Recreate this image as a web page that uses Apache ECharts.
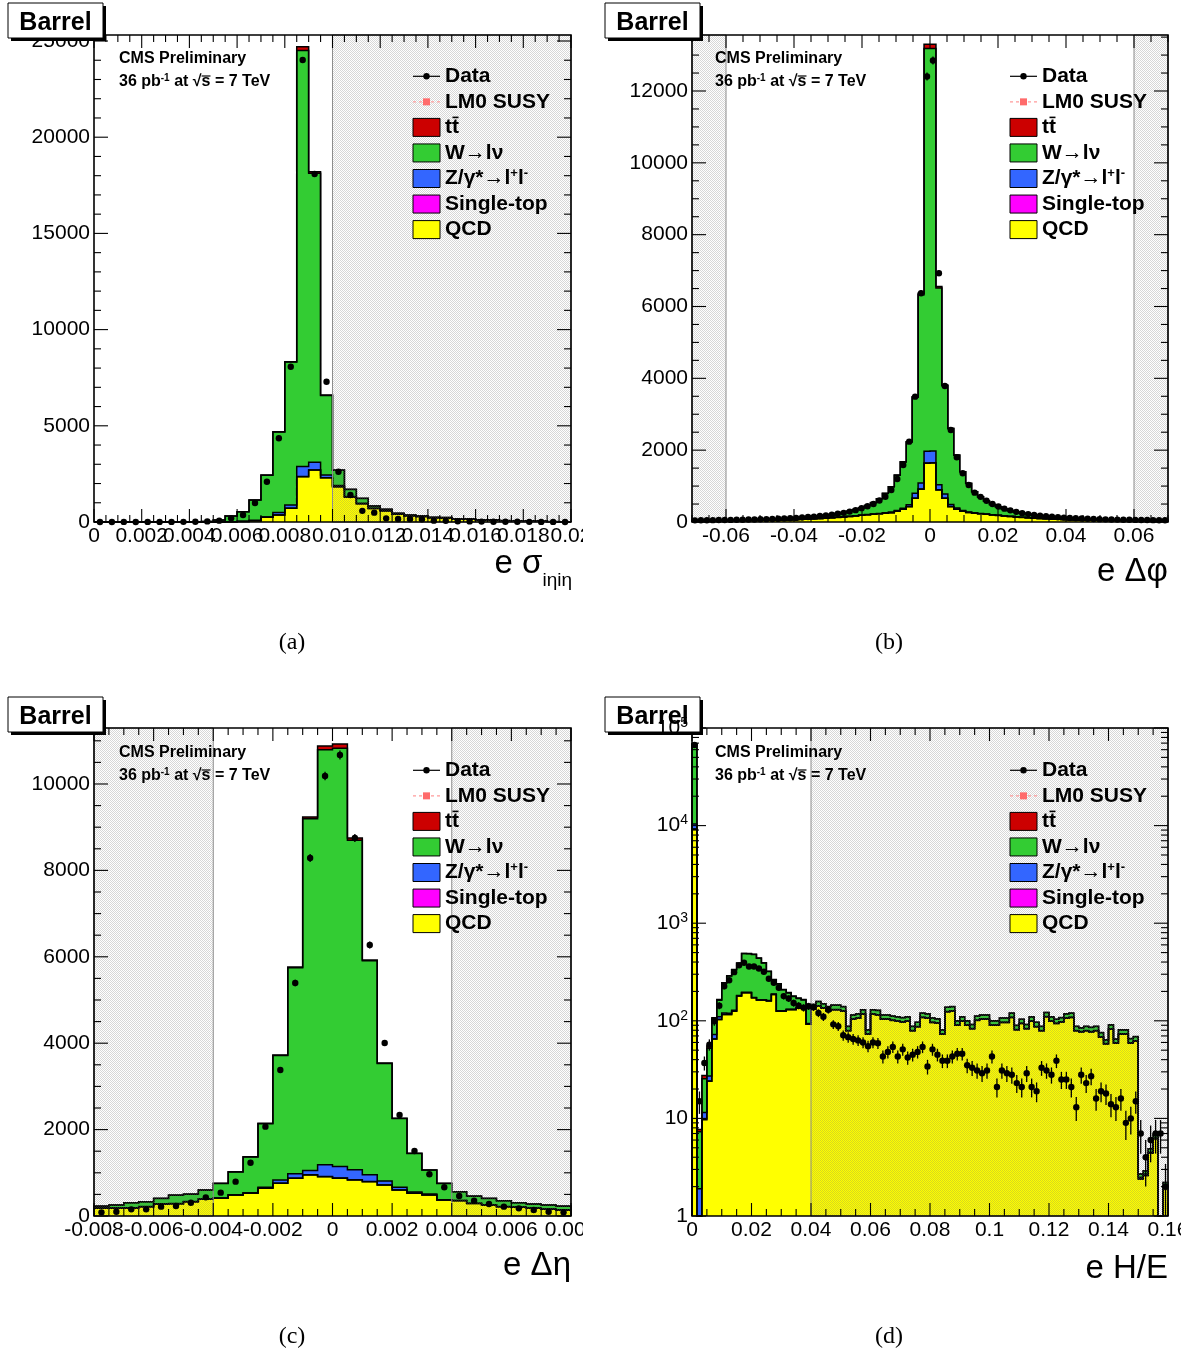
<!DOCTYPE html>
<html>
<head>
<meta charset="utf-8">
<script src="https://cdn.jsdelivr.net/npm/echarts@6.0.0/dist/echarts.min.js"></script>
<style>
html,body{margin:0;padding:0;background:#ffffff;}
#chart{width:1186px;height:1353px;}
</style>
</head>
<body>
<div id="chart"></div>
<script>
// ===================== DATA =====================
// Layers are stacked bottom -> top: QCD, Single-top, Z/gamma*->ll, W->lnu, ttbar

// (a) e sigma_ietaieta : 40 bins of 0.0005 on [0, 0.02]
const sieieBinStart = 0, sieieBinWidth = 0.0005;
const sieieQCD = [0,0,0,0,0,0,0,0,0,2,3,10,30,60,242,364,710,2356,2700,2300,1830,1300,950,700,580,400,320,280,220,210,155,140,92,88,62,52,48,34,16,15];
const sieieSingleTop = [0,0,0,0,0,0,0,0,0,0,0,0,0,0,0,3,5,10,5,3,2,1,0,0,0,0,0,0,0,0,0,0,0,0,0,0,0,0,0,0];
const sieieZ = [0,0,0,0,0,0,0,0,0,0,2,5,10,30,20,121,170,520,400,143,60,30,20,15,10,6,4,3,3,2,2,2,1,1,1,1,1,1,0,0];
const sieieW = [0,0,0,0,0,0,0,2,8,28,95,295,492,1048,2171,4195,7433,21614,15015,4134,801,362,256,112,68,44,39,28,26,22,17,17,11,10,8,6,5,4,3,2];
const sieieTT = [0,0,0,0,0,0,0,0,0,0,0,2,3,5,10,10,15,200,80,20,10,5,4,3,2,2,1,1,1,1,1,1,1,1,1,1,1,1,1,1];
const sieieData = [3,2,4,3,5,4,6,9,15,30,70,190,364,990,2095,4350,8073,24012,18087,7293,2615,1403,580,485,190,155,155,140,70,60,40,30,20,15,15,10,8,6,5,3];
const sieieXTicks = [0,0.002,0.004,0.006,0.008,0.01,0.012,0.014,0.016,0.018,0.02];
const sieieYTicks = [0,5000,10000,15000,20000,25000];
const sieieExcluded = [[0.01,0.02]];

// (b) e delta phi : 80 bins of 0.00175 on [-0.07, 0.07]
const dphiBinStart = -0.07, dphiBinWidth = 0.00175;
const dphiQCD = [33,34,35,36,37,38,39,40,41,43,45,47,49,52,55,59,63,68,74,80,88,96,105,116,128,140,155,170,185,200,215,230,245,260,300,353,427,660,911,1634,
                 1640,891,660,427,353,300,262,245,228,214,198,184,168,154,141,128,117,106,97,88,81,74,69,64,59,55,52,49,47,45,43,41,40,39,38,37,36,35,34,33];
const dphiSingleTop = [0,0,0,0,0,0,0,0,0,0,0,0,0,0,0,0,0,0,0,0,0,0,0,1,1,1,1,1,1,1,1,1,1,1,1,2,2,3,5,10,
                       10,5,3,2,2,1,1,1,1,1,1,1,1,1,1,1,1,0,0,0,0,0,0,0,0,0,0,0,0,0,0,0,0,0,0,0,0,0,0,0];
const dphiZ = [1,1,1,1,1,1,1,1,1,1,1,1,1,1,1,1,2,2,2,2,2,2,3,3,3,4,4,5,5,6,7,8,10,14,20,30,50,140,167,325,
               325,139,120,60,35,22,15,11,8,7,6,5,5,4,4,3,3,3,2,2,2,2,2,2,1,1,1,1,1,1,1,1,1,1,1,1,1,1,1,1];
const dphiW = [13,14,15,16,17,18,19,21,23,24,26,28,31,33,36,39,42,47,51,57,64,71,81,89,102,119,138,172,207,251,315,408,540,704,983,1287,1746,2667,5247,11211,
               11205,5479,3013,2109,1468,1073,796,585,462,361,281,231,186,157,130,110,92,83,72,65,57,50,45,42,40,37,34,31,29,26,25,23,21,20,18,17,16,15,14,14];
const dphiTT = [1,1,1,1,1,1,1,1,1,1,1,1,1,1,1,1,1,1,1,1,1,1,1,1,1,1,2,2,2,2,2,3,3,4,5,8,12,20,40,120,
                120,40,20,12,8,5,4,3,3,2,2,2,2,2,1,1,1,1,1,1,1,1,1,1,1,1,1,1,1,1,1,1,1,1,1,1,1,1,1,1];
const dphiData = [46,48,50,52,54,56,58,61,64,68,71,75,80,85,91,98,106,114,125,138,150,165,185,205,228,255,290,330,385,440,500,600,705,891,1198,1588,2237,3490,6370,12404,
                  12850,6928,3788,2562,1802,1356,1030,817,700,590,500,430,372,325,283,246,220,196,176,160,146,133,122,112,104,96,90,84,79,74,70,67,64,61,58,56,54,52,50,47];
const dphiXTicks = [-0.06,-0.04,-0.02,0,0.02,0.04,0.06];
const dphiYTicks = [0,2000,4000,6000,8000,10000,12000];
const dphiExcluded = [[-0.07,-0.06],[0.06,0.07]];

// (c) e delta eta : 32 bins of 0.0005 on [-0.008, 0.008]
const detaBinStart = -0.008, detaBinWidth = 0.0005;
const detaQCD = [177,177,185,216,278,285,331,386,409,486,525,641,757,873,949,910,873,833,795,718,602,525,486,370,355,290,255,216,200,177,154,139];
const detaSingleTop = [1,1,1,1,1,1,1,1,1,1,2,2,3,3,4,5,5,4,3,2,2,1,1,1,1,1,1,1,1,1,1,1];
const detaZ = [5,5,5,5,5,5,5,5,5,5,10,20,76,100,100,270,268,232,154,92,62,30,20,5,5,5,5,5,5,5,5,5];
const detaW = [45,69,114,106,122,192,169,207,339,528,831,1474,2879,4768,8143,9605,9680,7631,4954,2719,1589,891,555,378,199,164,145,130,99,92,92,83];
const detaTT = [3,3,3,3,3,3,3,3,3,5,5,8,12,20,40,90,100,50,20,10,6,4,3,3,3,3,3,3,3,3,3,3];
const detaData = [85,100,154,154,216,231,308,432,540,795,1234,2068,3380,5393,8287,10185,10671,8750,6273,4005,2338,1505,965,664,463,355,278,216,177,139,100,85];
const detaXTicks = [-0.008,-0.006,-0.004,-0.002,0,0.002,0.004,0.006,0.008];
const detaYTicks = [0,2000,4000,6000,8000,10000];
const detaExcluded = [[-0.008,-0.004],[0.004,0.008]];

// (d) e H/E : 96 bins of 1/600 on [0, 0.16], log y
const hoeBinStart = 0, hoeBinWidth = 0.16/96;
const hoeQCD = [9200,0,9.7,24,65,103,116,116,125,179,
                194,194,172,163,163,160,186,125,125,130,
                130,135,135,92,132,142,135,126,130,130,
                126,79,104,106,117,73,117,115,104,104,
                101,99,97,99,79,87,108,106,96,95,
                73,124,126,90,99,90,83,101,104,104,
                90,90,96,96,108,81,94,83,99,87,
                79,110,99,94,97,106,108,79,77,79,
                77,79,68,58,82,59,73,73,59,62,
                2.4,2.6,4.4,6.2,0,1.9];
const hoeSingleTop = [20,0.2,0.2,0.2,0.2,0.2,0.2,0.2,0.2,0.2,
                      0.2,0.2,0.2,0.2,0.2,0.2,0.2,0.2,0.2,0.2,
                      0.2,0.2,0.2,0.2,0.1,0.1,0.1,0.1,0.1,0.1,
                      0.1,0.1,0.1,0.1,0.1,0.1,0.1,0.1,0.1,0.1,
                      0.1,0.1,0.1,0.1,0.1,0.1,0.1,0.1,0.1,0.1,
                      0.1,0.1,0.1,0.1,0.1,0.1,0.1,0.1,0.1,0.1,
                      0.1,0.1,0.1,0.1,0.1,0.1,0.1,0.1,0.1,0.1,
                      0.1,0.1,0.1,0.1,0.1,0.1,0.1,0.1,0.1,0.1,
                      0.1,0.1,0.1,0.1,0.1,0.1,0.1,0.1,0.1,0.1,
                      0,0,0,0,0,0];
const hoeZ = [1150,1.7,1.6,3,7,7,4,3,3,2,
              2,1.5,1.5,1.5,1.5,1.5,1.5,1.5,1.5,1.5,
              1.5,1.5,1.5,1.5,0.5,0.5,0.5,0.5,0.5,0.5,
              0.5,0.5,0.5,0.5,0.5,0.5,0.5,0.5,0.5,0.5,
              0.5,0.5,0.5,0.5,0.5,0.5,0.5,0.5,0.5,0.5,
              0.5,0.5,0.5,0.5,0.5,0.5,0.5,0.5,0.5,0.5,
              0.5,0.5,0.5,0.5,0.5,0.5,0.5,0.5,0.5,0.5,
              0.5,0.5,0.5,0.5,0.5,0.5,0.5,0.5,0.5,0.5,
              0.5,0.5,0.5,0.5,0.5,0.5,0.5,0.5,0.5,0.5,
              0.1,0.1,0.1,0.1,0,0.1];
const hoeW = [58000,5.4,14,25,32,52,122,169,205,207,
              292,292,304,273,226,159,75,111,81,61,
              46,33,27,52,14,15,14,13,14,14,
              13,8,10,11,12,7,12,12,10,10,
              10,10,10,10,8,9,11,11,10,9,
              7,13,13,9,10,9,8,10,10,10,
              9,9,10,10,11,8,9,8,10,9,
              8,11,10,9,10,11,11,8,7,8,
              8,8,7,5,8,5,7,7,6,6,
              0.2,0.2,0.4,0.6,0,0.2];
const hoeTT = [100,0.4,2,3,3,3,3,2,2,2,
               2,2,2,2,2,2,2,2,2,2,
               2,2,2,2,0.3,0.3,0.3,0.3,0.3,0.3,
               0.3,0.3,0.3,0.3,0.3,0.3,0.3,0.3,0.3,0.3,
               0.3,0.3,0.3,0.3,0.3,0.3,0.3,0.3,0.3,0.3,
               0.3,0.3,0.3,0.3,0.3,0.3,0.3,0.3,0.3,0.3,
               0.3,0.3,0.3,0.3,0.3,0.3,0.3,0.3,0.3,0.3,
               0.3,0.3,0.3,0.3,0.3,0.3,0.3,0.3,0.3,0.3,
               0.3,0.3,0.3,0.3,0.3,0.3,0.3,0.3,0.3,0.3,
               0,0,0,0,0,0];
const hoeData = [67000,15,37,57,99,143,226,260,315,370,
                 393,360,360,343,318,270,245,218,179,169,
                 152,143,136,141,138,120,110,130,92,88,
                 71,68,65,63,60,55,60,59,43,48,
                 54,43,51,42,45,48,54,34,51,45,
                 39,39,43,46,46,35,33,31,29,31,
                 43,21,31,29,28,23,21,29,21,19,
                 33,31,28,39,25,25,21,13,28,23,
                 27,16,19,18,14,13,16,9,10,15,
                 7,4,6,7,7,2];
const hoeXTicks = [0,0.02,0.04,0.06,0.08,0.1,0.12,0.14,0.16];
const hoeYTicks = [1,10,100,1000,10000,100000];
const hoeExcluded = [[0.04,0.16]];

const legendLabels = ['Data','LM0 SUSY','tt','W\u2192l\u03bd','Z/\u03b3*\u2192l{s|+}l{s|-}','Single-top','QCD'];

// ===================== STYLE / LAYOUT =====================
const FONT = '"Liberation Sans", Arial, Helvetica, sans-serif';
const SERIF = '"Liberation Serif", "Times New Roman", serif';
const LAYER_COLORS = ['#ffff00','#ff00ff','#3366ff','#33cc33','#cc0000'];
const LEGEND_COLORS = [null,null,'#cc0000','#33cc33','#3366ff','#ff00ff','#ffff00'];

const PANELS = [
  {grid:{left:94,top:35,width:477,height:487}, xMin:0, xMax:0.02, xInterval:0.002, xTicks:sieieXTicks, xMinor:0.0005,
   yLog:false, yMin:0, yMax:25312, yInterval:5000, yTicks:sieieYTicks, yMinor:1000,
   binStart:sieieBinStart, binWidth:sieieBinWidth, layers:[sieieQCD,sieieSingleTop,sieieZ,sieieW,sieieTT], data:sieieData, excluded:sieieExcluded,
   legend:{x:413,y:76.3}, cms:{x:119,y:59}, barrel:{x:8,y:3}, caption:{t:'(a)',x:292,y:643},
   title:{main:'e \u03c3', sub:'i\u03b7i\u03b7', right:572, base:575, subBase:587}},
  {grid:{left:692,top:35,width:476,height:487}, xMin:-0.07, xMax:0.07, xInterval:0.01, xTicks:dphiXTicks, xMinor:0.005,
   yLog:false, yMin:0, yMax:13559, yInterval:2000, yTicks:dphiYTicks, yMinor:500,
   binStart:dphiBinStart, binWidth:dphiBinWidth, layers:[dphiQCD,dphiSingleTop,dphiZ,dphiW,dphiTT], data:dphiData, excluded:dphiExcluded,
   legend:{x:1010,y:76.3}, cms:{x:715,y:59}, barrel:{x:605,y:3}, caption:{t:'(b)',x:889,y:643},
   title:{main:'e \u0394\u03c6', right:1168, base:583}},
  {grid:{left:94,top:728,width:477,height:488}, xMin:-0.008, xMax:0.008, xInterval:0.002, xTicks:detaXTicks, xMinor:0.0005,
   yLog:false, yMin:0, yMax:11296, yInterval:2000, yTicks:detaYTicks, yMinor:500,
   binStart:detaBinStart, binWidth:detaBinWidth, layers:[detaQCD,detaSingleTop,detaZ,detaW,detaTT], data:detaData, excluded:detaExcluded,
   legend:{x:413,y:770.3}, cms:{x:119,y:753}, barrel:{x:8,y:697}, caption:{t:'(c)',x:292,y:1337},
   title:{main:'e \u0394\u03b7', right:571, base:1277}},
  {grid:{left:692,top:728,width:476,height:488}, xMin:0, xMax:0.16, xInterval:0.02, xTicks:hoeXTicks, xMinor:0.005,
   yLog:true, yMin:1, yMax:100000, yTicks:hoeYTicks, labelsOnTop:true,
   binStart:hoeBinStart, binWidth:hoeBinWidth, layers:[hoeQCD,hoeSingleTop,hoeZ,hoeW,hoeTT], data:hoeData, excluded:hoeExcluded,
   legend:{x:1010,y:770.3}, cms:{x:715,y:753}, barrel:{x:605,y:697}, caption:{t:'(d)',x:889,y:1337},
   title:{main:'e H/E', right:1168, base:1280}}
];

// stipple pattern for the excluded regions
const patCanvas = document.createElement('canvas');
patCanvas.width = 2; patCanvas.height = 2;
(function(){ const g = patCanvas.getContext('2d'); g.fillStyle = 'rgba(110,110,110,0.28)'; g.fillRect(0,0,1,1); g.fillRect(1,1,1,1); })();
const HATCH = {image: patCanvas, repeat: 'repeat'};

const mctx = document.createElement('canvas').getContext('2d');
function textW(t, font){ mctx.font = font; return mctx.measureText(t).width; }

function cumulate(layers){
  const out = []; let prev = null;
  layers.forEach(arr => { const c = arr.map((v,k) => (prev ? prev[k] : 0) + v); out.push(c); prev = c; });
  return out;
}
function clampY(P, v){ return Math.max(P.yMin, Math.min(P.yMax, v)); }
function numLabel(v, ticks){
  for (const t of ticks){ if (Math.abs(t - v) < 1e-9 + 1e-6*Math.abs(t)) return t === 0 ? '0' : String(t); }
  return '';
}
function logLabel(v){
  const lv = Math.log10(v);
  if (!hoeYTicks.some(t => Math.abs(Math.log10(t) - lv) < 1e-6)) return '';
  const e = Math.round(lv);
  if (e === 0) return '1';
  if (e === 1) return '10';
  return '{b|10}{s|' + e + '}';
}

// ===================== SERIES =====================
const series = [];
PANELS.forEach((P, i) => {
  P.cum = cumulate(P.layers);
  const n = P.layers[0].length;
  const anchor = [[P.xMin, P.yLog ? 10 : 1]];
  P.cum.forEach((top, li) => {
    series.push({
      type:'custom', xAxisIndex:i, yAxisIndex:i, z:2, silent:true, animation:false, data:anchor,
      renderItem:(params, api) => {
        const bot = li > 0 ? P.cum[li-1] : null;
        const pts = [];
        for (let k = 0; k < n; k++){
          const x0 = P.binStart + k*P.binWidth, x1 = x0 + P.binWidth, y = clampY(P, top[k]);
          pts.push(api.coord([x0, y])); pts.push(api.coord([x1, y]));
        }
        for (let k = n-1; k >= 0; k--){
          const x0 = P.binStart + k*P.binWidth, x1 = x0 + P.binWidth, y = bot ? clampY(P, bot[k]) : P.yMin;
          pts.push(api.coord([x1, y])); pts.push(api.coord([x0, y]));
        }
        return {type:'polygon', shape:{points:pts}, style:{fill:LAYER_COLORS[li], stroke:null}};
      }
    });
  });
  series.push({
    type:'custom', xAxisIndex:i, yAxisIndex:i, z:3, silent:true, animation:false, data:anchor,
    renderItem:(params, api) => {
      const children = P.cum.map(top => {
        const pts = [api.coord([P.binStart, P.yMin])];
        for (let k = 0; k < n; k++){
          const x0 = P.binStart + k*P.binWidth, x1 = x0 + P.binWidth, y = clampY(P, top[k]);
          pts.push(api.coord([x0, y])); pts.push(api.coord([x1, y]));
        }
        pts.push(api.coord([P.binStart + n*P.binWidth, P.yMin]));
        return {type:'polyline', shape:{points:pts}, style:{stroke:'#000', lineWidth:1.5, fill:null}};
      });
      return {type:'group', children};
    }
  });
  series.push({
    type:'custom', xAxisIndex:i, yAxisIndex:i, z:4, silent:true, animation:false, data:anchor,
    renderItem:(params, api) => ({type:'group', children: P.excluded.map(r => {
      const a = api.coord([r[0], P.yMax]), b = api.coord([r[1], P.yMin]);
      return {type:'rect', shape:{x:a[0], y:a[1], width:b[0]-a[0], height:b[1]-a[1]}, style:{fill:HATCH, stroke:'#8c8c8c', lineWidth:1}};
    })})
  });
  series.push({
    type:'custom', xAxisIndex:i, yAxisIndex:i, z:5, silent:true, animation:false,
    data: P.data.map((v,k) => [P.binStart + (k+0.5)*P.binWidth, v]),
    renderItem:(params, api) => {
      const x = api.value(0), v = api.value(1), e = Math.sqrt(v);
      const p = api.coord([x, v]), lo = api.coord([x, clampY(P, v - e)]), hi = api.coord([x, clampY(P, v + e)]);
      return {type:'group', children:[
        {type:'line', shape:{x1:p[0], y1:lo[1], x2:p[0], y2:hi[1]}, style:{stroke:'#000', lineWidth:1.3}},
        {type:'circle', shape:{cx:p[0], cy:p[1], r:3.2}, style:{fill:'#000'}}
      ]};
    }
  });
  series.push({
    type:'custom', xAxisIndex:i, yAxisIndex:i, z:6, silent:true, animation:false, data:anchor,
    renderItem:(params, api) => {
      const ch = [];
      const tl = api.coord([P.xMin, P.yMax]), br = api.coord([P.xMax, P.yMin]);
      const L = (x1,y1,x2,y2) => ch.push({type:'line', shape:{x1,y1,x2,y2}, style:{stroke:'#000', lineWidth:1.1}});
      const nx = Math.round((P.xMax - P.xMin)/P.xMinor);
      for (let j = 0; j <= nx; j++){
        const xv = P.xMin + j*P.xMinor;
        const major = P.xTicks.some(t => Math.abs(t - xv) < 1e-9);
        const len = major ? 13 : 7;
        const px = api.coord([xv, P.yMin])[0];
        L(px, br[1], px, br[1]-len);
        L(px, tl[1], px, tl[1]+len);
      }
      const yt = [];
      if (P.yLog){
        P.yTicks.forEach(t => yt.push([t, true]));
        for (let d = 1; d < P.yMax; d *= 10) for (let m = 2; m <= 9; m++) yt.push([m*d, false]);
      } else {
        const ny = Math.floor((P.yMax - P.yMin)/P.yMinor + 1e-9);
        for (let j = 0; j <= ny; j++){
          const yv = P.yMin + j*P.yMinor;
          yt.push([yv, P.yTicks.indexOf(yv) >= 0]);
        }
      }
      yt.forEach(([yv, major]) => {
        const len = major ? 14 : 7;
        const py = api.coord([P.xMin, yv])[1];
        L(tl[0], py, tl[0]+len, py);
        L(br[0], py, br[0]-len, py);
      });
      ch.push({type:'rect', shape:{x:tl[0], y:tl[1], width:br[0]-tl[0], height:br[1]-tl[1]}, style:{fill:null, stroke:'#000', lineWidth:1.6}});
      return {type:'group', children:ch};
    }
  });
});

// ===================== AXES =====================
const grids = PANELS.map(P => ({left:P.grid.left, top:P.grid.top, width:P.grid.width, height:P.grid.height, containLabel:false, outerBoundsMode:'none', show:false}));
const xAxes = PANELS.map((P,i) => ({
  type:'value', gridIndex:i, min:P.xMin, max:P.xMax, interval:P.xInterval,
  axisLine:{show:false}, axisTick:{show:false}, splitLine:{show:false}, minorTick:{show:false},
  axisLabel:{show:true, margin:4, color:'#000', fontFamily:FONT, fontSize:21, hideOverlap:false, showMinLabel:true, showMaxLabel:true,
             formatter:(v) => numLabel(v, P.xTicks)}
}));
const yAxes = PANELS.map((P,i) => P.yLog ? ({
  type:'log', logBase:10, gridIndex:i, min:P.yMin, max:P.yMax, z:P.labelsOnTop ? 200 : 0,
  axisLine:{show:false}, axisTick:{show:false}, splitLine:{show:false}, minorTick:{show:false},
  axisLabel:{show:true, margin:4, color:'#000', fontFamily:FONT, fontSize:21, lineHeight:24, hideOverlap:false, showMinLabel:true, showMaxLabel:true,
             formatter:logLabel,
             rich:{b:{fontFamily:FONT, fontSize:21, lineHeight:24, color:'#000'}, s:{fontFamily:FONT, fontSize:14, lineHeight:10, verticalAlign:'top', color:'#000'}}}
}) : ({
  type:'value', gridIndex:i, min:P.yMin, max:P.yMax, interval:P.yInterval,
  axisLine:{show:false}, axisTick:{show:false}, splitLine:{show:false}, minorTick:{show:false},
  axisLabel:{show:true, margin:4, color:'#000', fontFamily:FONT, fontSize:21, hideOverlap:false, showMinLabel:true, showMaxLabel:true,
             formatter:(v) => numLabel(v, P.yTicks)}
}));

// ===================== DECORATIONS =====================
function txt(text, x, y, o){
  o = o || {};
  const align = o.align || 'left';
  return {type:'text', x, y, z:o.z || 102, silent:true,
    style:Object.assign({text, fill:'#000', fontFamily:FONT, fontSize:21, fontWeight:'normal',
      align, verticalAlign:'middle', textAlign:align, textVerticalAlign:'middle'}, o.style || {})};
}
function line(x1,y1,x2,y2,st,z){ return {type:'line', z:z||102, silent:true, shape:{x1,y1,x2,y2}, style:Object.assign({stroke:'#000', lineWidth:1}, st||{})}; }

const els = [];
PANELS.forEach(P => {
  const lx = P.legend.x, ly = P.legend.y, rowH = 25.55, bw = 27, bh = 18;
  legendLabels.forEach((lab, r) => {
    const y = ly + r*rowH;
    if (r === 0){
      els.push(line(lx, y, lx+bw, y, {lineWidth:1.2}));
      els.push({type:'circle', z:103, silent:true, shape:{cx:lx+bw/2, cy:y, r:3.2}, style:{fill:'#000'}});
    } else if (r === 1){
      els.push(line(lx, y, lx+bw, y, {stroke:'#ff9a9a', lineWidth:1.2, lineDash:[3,3]}));
      els.push({type:'rect', z:103, silent:true, shape:{x:lx+bw/2-3.5, y:y-3.5, width:7, height:7}, style:{fill:'#ff6b6b'}});
    } else {
      els.push({type:'rect', z:102, silent:true, shape:{x:lx, y:y-bh/2, width:bw, height:bh}, style:{fill:LEGEND_COLORS[r], stroke:'#000', lineWidth:1}});
    }
    els.push(txt(lab, lx+32, y, {style:{fontWeight:'bold', fontSize:21, lineHeight:24,
      rich:{s:{fontFamily:FONT, fontWeight:'bold', fontSize:13, lineHeight:11, verticalAlign:'top'}}}}));
    if (r === 2){
      const wt = textW('t', 'bold 21px ' + FONT);
      els.push(line(lx+32+wt+0.5, y-10, lx+32+2*wt-0.5, y-10, {lineWidth:1.6}));
    }
  });
  const cx = P.cms.x, cy = P.cms.y;
  els.push(txt('CMS Preliminary', cx, cy, {style:{fontWeight:'bold', fontSize:16}}));
  els.push(txt('36 pb{s|-1} at \u221as = 7 TeV', cx, cy+23, {style:{fontWeight:'bold', fontSize:16, lineHeight:18,
    rich:{s:{fontFamily:FONT, fontWeight:'bold', fontSize:10, lineHeight:8, verticalAlign:'top'}}}}));
  const f16 = 'bold 16px ' + FONT;
  const sx = cx + textW('36 pb', f16) + textW('-1', 'bold 10px ' + FONT) + textW(' at \u221a', f16);
  els.push(line(sx, cy+23-6, sx + textW('s', f16), cy+23-6, {lineWidth:1.2}));
  const b = P.barrel;
  els.push({type:'rect', z:104, silent:true, shape:{x:b.x+3, y:b.y+3, width:95, height:35}, style:{fill:'#000'}});
  els.push({type:'rect', z:105, silent:true, shape:{x:b.x, y:b.y, width:95, height:35}, style:{fill:'#fff', stroke:'#000', lineWidth:1}});
  els.push(txt('Barrel', b.x+47.5, b.y+20, {z:106, align:'center', style:{fontWeight:'bold', fontSize:25}}));
  const T = P.title, tf = 33;
  let mainRight = T.right;
  if (T.sub){
    els.push(txt(T.sub, T.right, T.subBase - 0.347*19, {align:'right', style:{fontSize:19}}));
    mainRight = T.right - textW(T.sub, '19px ' + FONT);
  }
  els.push(txt(T.main, mainRight, T.base - 0.347*tf, {align:'right', style:{fontSize:tf}}));
  els.push(txt(P.caption.t, P.caption.x, P.caption.y, {align:'center', style:{fontFamily:SERIF, fontSize:24}}));
});
// the original figure crops the right-most tick labels at the sub-figure edge
els.push({type:'rect', z:110, silent:true, shape:{x:583, y:524, width:20, height:30}, style:{fill:'#fff'}});
els.push({type:'rect', z:110, silent:true, shape:{x:583, y:1218, width:20, height:30}, style:{fill:'#fff'}});
els.push({type:'rect', z:110, silent:true, shape:{x:1181, y:1218, width:10, height:30}, style:{fill:'#fff'}});

const chart = echarts.init(document.getElementById('chart'), null, {renderer:'canvas', width:1186, height:1353});
chart.setOption({
  backgroundColor:'#ffffff',
  animation:false,
  grid:grids, xAxis:xAxes, yAxis:yAxes,
  series,
  graphic:{elements:els}
});
</script>
</body>
</html>
